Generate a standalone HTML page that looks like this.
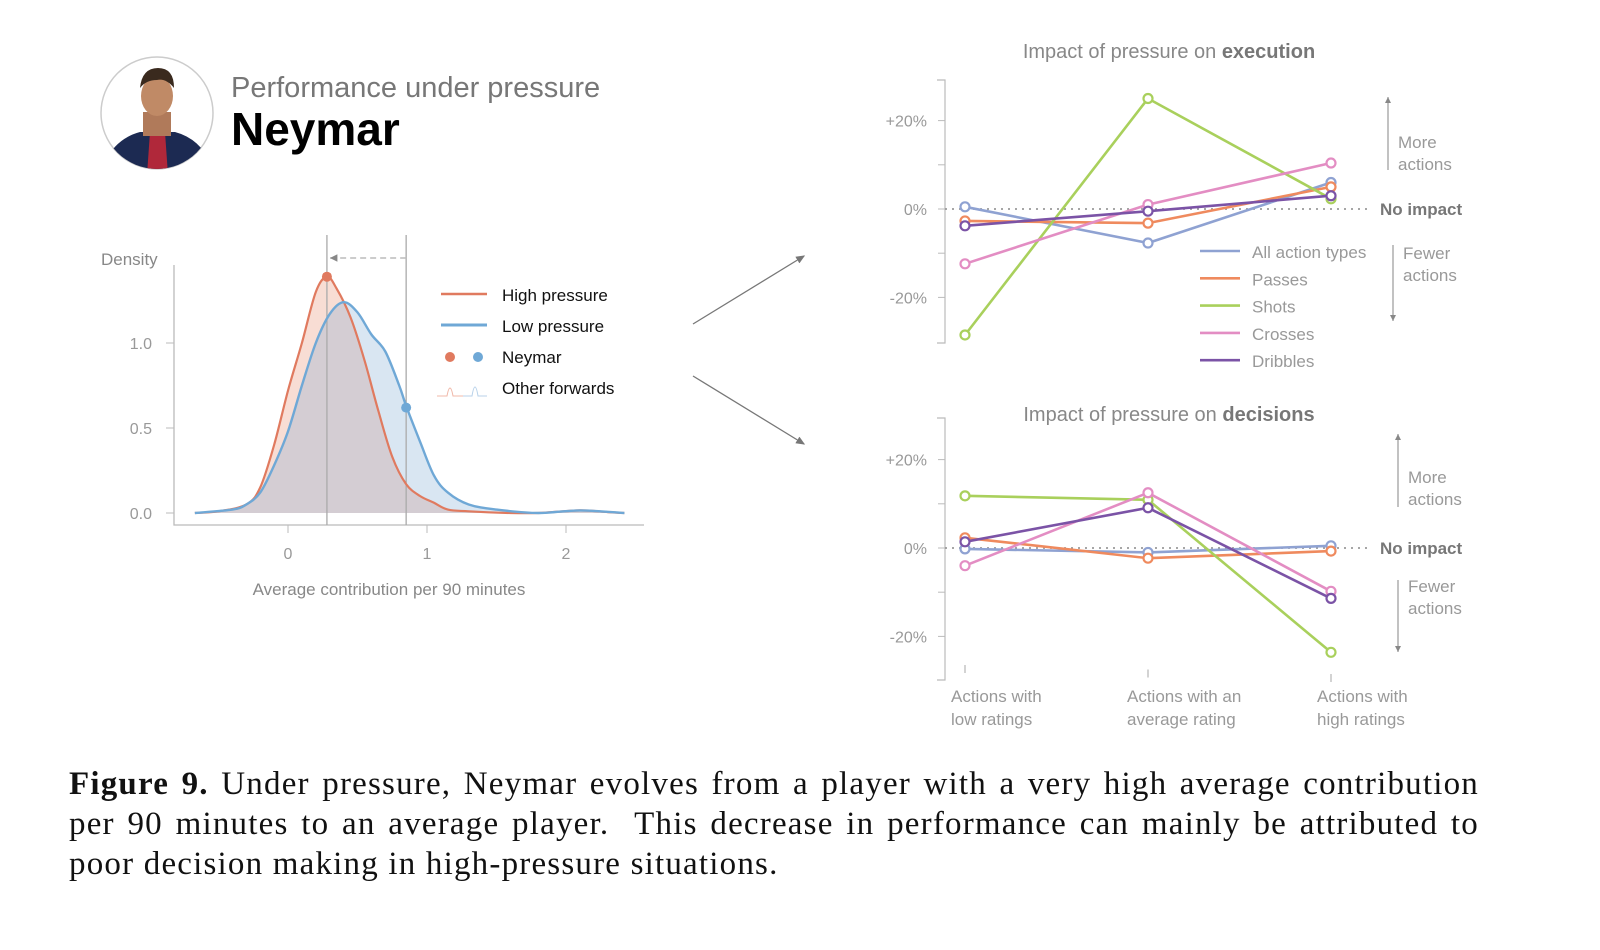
<!DOCTYPE html>
<html><head><meta charset="utf-8">
<style>
html,body{margin:0;padding:0;background:#fff;}
#root{position:relative;width:1600px;height:950px;overflow:hidden;font-family:"Liberation Sans",sans-serif;}
svg{position:absolute;left:0;top:0;}
#caption{position:absolute;left:69px;top:764px;width:1410px;font-family:"Liberation Serif",serif;font-size:33px;letter-spacing:1.2px;line-height:40px;color:#111;}
#caption div{white-space:nowrap;}
#caption .j{text-align:justify;text-align-last:justify;}
</style></head>
<body>
<div id="root">
<svg id="svg" width="1600" height="950">
  <defs>
    <clipPath id="avclip"><circle cx="157" cy="113" r="56"/></clipPath>
    <marker id="ah" markerWidth="8" markerHeight="8" refX="6" refY="4" orient="auto"><path d="M0,1 L7,4 L0,7 z" fill="#777"/></marker>
    <marker id="ahs" markerWidth="6" markerHeight="6" refX="5" refY="3" orient="auto"><path d="M0,0.5 L5,3 L0,5.5 z" fill="#888"/></marker>
  </defs>
  <g>
    <circle cx="157" cy="113" r="56" fill="#fff" stroke="#ccc" stroke-width="1.5"/>
    <g clip-path="url(#avclip)">
      <path d="M100,175 Q110,140 140,132 L175,132 Q205,140 215,175 Z" fill="#1c2a52"/>
      <path d="M150,132 L165,132 L168,175 L147,175 Z" fill="#b0283a"/>
      <rect x="143" y="112" width="28" height="24" fill="#b07a5a"/>
      <ellipse cx="157" cy="96" rx="16" ry="20" fill="#c08a66"/>
      <path d="M140,88 Q142,68 158,68 Q174,68 174,88 Q166,78 157,80 Q146,80 140,88Z" fill="#3a2a1e"/>
    </g>
  </g>
  <text x="231" y="97" font-size="29" fill="#777">Performance under pressure</text>
  <text x="231" y="145" font-size="46" font-weight="bold" fill="#000">Neymar</text>

  <g id="density"></g>

  <line x1="693" y1="324" x2="804" y2="256" stroke="#777" stroke-width="1.3" marker-end="url(#ah)"/>
  <line x1="693" y1="376" x2="804" y2="444" stroke="#777" stroke-width="1.3" marker-end="url(#ah)"/>

  <g id="exec"></g>
  <g id="dec"></g>
</svg>
<div id="caption">
<div class="j"><b>Figure 9.</b> Under pressure, Neymar evolves from a player with a very high average contribution</div>
<div class="j">per 90 minutes to an average player.&nbsp; This decrease in performance can mainly be attributed to</div>
<div>poor decision making in high-pressure situations.</div>
</div>
</div>
<script>
// ---- density data ----
const densX = [-0.67,-0.5,-0.3,-0.2,-0.1,0,0.1,0.2,0.28,0.35,0.45,0.55,0.65,0.75,0.85,0.95,1.05,1.15,1.3,1.6,1.8,2.1,2.3,2.42];
const highDens = [0,0.01,0.05,0.15,0.4,0.72,1.0,1.3,1.39,1.32,1.15,0.9,0.6,0.33,0.17,0.1,0.06,0.02,0.01,0,0,0.015,0.005,0];
const lowX = [-0.67,-0.4,-0.3,-0.2,-0.1,0,0.1,0.2,0.3,0.4,0.5,0.6,0.7,0.8,0.85,0.95,1.05,1.15,1.3,1.5,1.8,2.1,2.42];
const lowDens = [0,0.02,0.05,0.12,0.28,0.48,0.75,1.0,1.17,1.24,1.18,1.05,0.95,0.75,0.63,0.42,0.22,0.12,0.05,0.02,0,0.015,0];
const neymarHigh = [0.28,1.39];
const neymarLow = [0.85,0.62];
const densXTicks = [0,1,2];
const densYTicks = [0.0,0.5,1.0];

// ---- impact data ----
const categories = ["Actions with|low ratings","Actions with an|average rating","Actions with|high ratings"];
const seriesNames = ["All action types","Passes","Shots","Crosses","Dribbles"];
const seriesColors = ["#8fa2d2","#ef8a5e","#a9d05c","#e38dc3","#7b53a6"];
const execAll = [0.5,-7.7,6];
const execPasses = [-2.7,-3.2,5];
const execShots = [-28.5,25,2.3];
const execCrosses = [-12.4,1,10.4];
const execDribbles = [-3.8,-0.5,3];
const decAll = [-0.2,-1,0.5];
const decPasses = [2.3,-2.3,-0.7];
const decShots = [11.8,10.9,-23.6];
const decCrosses = [-4,12.5,-9.8];
const decDribbles = [1.4,9.1,-11.4];
const pctTicks = [20,0,-20];
const pctTickLabels = ["+20%","0%","-20%"];

const NS="http://www.w3.org/2000/svg";
function mk(parent,tag,attrs,text){const e=document.createElementNS(NS,tag);for(const k in attrs)e.setAttribute(k,attrs[k]);if(text!==undefined)e.textContent=text;parent.appendChild(e);return e;}

(function(){
  const g=document.getElementById('density');
  const sx=v=>288+v*139, sy=v=>513-v*170;
  function smooth(xs,ys){const p=xs.map((x,i)=>[sx(x),sy(ys[i])]);let d='M'+p[0][0]+','+p[0][1];
    for(let i=0;i<p.length-1;i++){const p0=p[Math.max(0,i-1)],p1=p[i],p2=p[i+1],p3=p[Math.min(p.length-1,i+2)];
      const c1=[p1[0]+(p2[0]-p0[0])/6,p1[1]+(p2[1]-p0[1])/6],c2=[p2[0]-(p3[0]-p1[0])/6,p2[1]-(p3[1]-p1[1])/6];
      d+=`C${c1[0].toFixed(1)},${c1[1].toFixed(1)} ${c2[0].toFixed(1)},${c2[1].toFixed(1)} ${p2[0].toFixed(1)},${p2[1].toFixed(1)}`;}
    return d;}
  const hd=smooth(densX,highDens), ld=smooth(lowX,lowDens);
  const hf=mk(g,'path',{d:hd+'Z',fill:'rgba(232,150,120,0.32)'});
  
  
  const lf=mk(g,'path',{d:ld+'Z',fill:'rgba(120,165,210,0.28)'});
  
  
  const ax=mk(g,'path',{d:'M174,265 L174,525 L644,525',fill:'none',stroke:'#bbb','stroke-width':1.3});
  
  
  densYTicks.forEach(t=>{mk(g,'line',{x1:166,x2:174,y1:sy(t),y2:sy(t),stroke:'#bbb'});
    const l=mk(g,'text',{x:152,y:sy(t)+6,'font-size':16,fill:'#999','text-anchor':'end'},t.toFixed(1));
    
    });
  densXTicks.forEach(t=>{mk(g,'line',{x1:sx(t),x2:sx(t),y1:525,y2:533,stroke:'#bbb'});
    const l=mk(g,'text',{x:sx(t),y:559,'font-size':16,fill:'#999','text-anchor':'middle'},String(t));
    
    });
  const yt=mk(g,'text',{x:101,y:265,'font-size':17,fill:'#888'},'Density');
  
  
  const xt=mk(g,'text',{x:389,y:595,'font-size':17,fill:'#888','text-anchor':'middle'},'Average contribution per 90 minutes');
  
  
  [neymarHigh[0],neymarLow[0]].forEach(v=>mk(g,'line',{x1:sx(v),x2:sx(v),y1:235,y2:525,stroke:'#aaa','stroke-width':1.3}));
  const da=mk(g,'line',{x1:sx(neymarLow[0]),x2:sx(neymarHigh[0])+3,y1:258,y2:258,stroke:'#bbb','stroke-width':1.5,'stroke-dasharray':'6,4','marker-end':'url(#ahs)'});
  
  
  const hl=mk(g,'path',{d:hd,fill:'none',stroke:'#e07a5f','stroke-width':2.2});
  
  
  const ll=mk(g,'path',{d:ld,fill:'none',stroke:'#6fa8d6','stroke-width':2.4});
  
  
  const p1=mk(g,'circle',{cx:sx(neymarHigh[0]),cy:sy(neymarHigh[1]),r:5,fill:'#e07a5f'});
  
  
  const p2=mk(g,'circle',{cx:sx(neymarLow[0]),cy:sy(neymarLow[1]),r:5,fill:'#6fa8d6'});
  
  
  const lg=mk(g,'g',{});
  
  
  mk(lg,'line',{x1:441,x2:487,y1:294,y2:294,stroke:'#e07a5f','stroke-width':2.5});
  mk(lg,'line',{x1:441,x2:487,y1:325,y2:325,stroke:'#6fa8d6','stroke-width':3});
  mk(lg,'circle',{cx:450,cy:357,r:5,fill:'#e07a5f'});
  mk(lg,'circle',{cx:478,cy:357,r:5,fill:'#6fa8d6'});
  mk(lg,'path',{d:'M437,396 L447,396 Q450,380 453,396 L463,396',fill:'none',stroke:'#f0b8a8','stroke-width':1});
  mk(lg,'path',{d:'M463,396 L472,396 Q475,378 478,396 L487,396',fill:'none',stroke:'#b8d2ea','stroke-width':1});
  ['High pressure','Low pressure','Neymar','Other forwards'].forEach((t,i)=>{
    const e=mk(lg,'text',{x:502,y:301+i*31,'font-size':17,fill:'#111'},t);
    
    });
})();

function impactChart(id,top,zeroY,axTop,axBot,title,boldWord,series,withLegend,withXLabels,annot){
  const g=document.getElementById(id);
  const xs=[965,1148,1331];
  const sy=v=>zeroY-v*4.42;
  const t=mk(g,'text',{x:1169,y:top,'font-size':20,fill:'#888','text-anchor':'middle'});
  
  
  mk(t,'tspan',{},title+' ');mk(t,'tspan',{'font-weight':'bold',fill:'#777'},boldWord);
  mk(g,'path',{d:`M937,${axTop} L945,${axTop} L945,${axBot} L937,${axBot}`,fill:'none',stroke:'#bbb','stroke-width':1.2});
  [20,10,0,-10,-20].forEach(v=>mk(g,'line',{x1:938,x2:945,y1:sy(v),y2:sy(v),stroke:'#bbb'}));
  pctTicks.forEach((v,i)=>{const e=mk(g,'text',{x:927,y:sy(v)+6,'font-size':16,fill:'#999','text-anchor':'end'},pctTickLabels[i]);
    
    });
  const dl=mk(g,'line',{x1:945,x2:1372,y1:sy(0),y2:sy(0),stroke:'#999','stroke-width':1.8,'stroke-dasharray':'2,5'});
  
  
  const ni=mk(g,'text',{x:1380,y:sy(0)+6,'font-size':17,'font-weight':'bold',fill:'#777'},'No impact');
  
  
  series.forEach((vals,si)=>{
    const pts=vals.map((v,i)=>xs[i]+','+sy(v).toFixed(1)).join(' ');
    const pl=mk(g,'polyline',{points:pts,fill:'none',stroke:seriesColors[si],'stroke-width':2.6});
    
    
    vals.forEach((v,i)=>{const c=mk(g,'circle',{cx:xs[i],cy:sy(v),r:4.5,fill:'#fff',stroke:seriesColors[si],'stroke-width':2.2});
      
      });
  });
  mk(g,'line',{x1:annot.ax,x2:annot.ax,y1:annot.upB,y2:annot.upT,stroke:'#999','stroke-width':1.2,'marker-end':'url(#ahs)'});
  mk(g,'line',{x1:annot.ax2,x2:annot.ax2,y1:annot.dnT,y2:annot.dnB,stroke:'#999','stroke-width':1.2,'marker-end':'url(#ahs)'});
  const m=mk(g,'text',{x:annot.mx,y:annot.my,'font-size':17,fill:'#999'});
  
  
  mk(m,'tspan',{x:annot.mx},'More');mk(m,'tspan',{x:annot.mx,dy:22},'actions');
  const f=mk(g,'text',{x:annot.fx,y:annot.fy,'font-size':17,fill:'#999'});
  
  
  mk(f,'tspan',{x:annot.fx},'Fewer');mk(f,'tspan',{x:annot.fx,dy:22},'actions');
  if(withLegend){
    seriesNames.forEach((n,i)=>{const y=251+i*27.3;
      mk(g,'line',{x1:1200,x2:1240,y1:y,y2:y,stroke:seriesColors[i],'stroke-width':2.6});
      const e=mk(g,'text',{x:1252,y:y+7,'font-size':17,fill:'#999'},n);
      
      });
  }
  if(withXLabels){
    const lx=[951,1127,1317];
    categories.forEach((c,i)=>{
      mk(g,'line',{x1:xs[i],x2:xs[i],y1:665+i*4.5,y2:673+i*4.5,stroke:'#bbb','stroke-width':1.3});
      const parts=c.split('|');
      const e=mk(g,'text',{x:lx[i],y:702,'font-size':17,fill:'#999'});
      
      
      mk(e,'tspan',{x:lx[i]},parts[0]);mk(e,'tspan',{x:lx[i],dy:23},parts[1]);
    });
  }
}
impactChart('exec',58,209,80,343,'Impact of pressure on','execution',
  [execAll,execPasses,execShots,execCrosses,execDribbles],true,false,
  {ax:1388,upB:170,upT:97,ax2:1393,dnT:245,dnB:321,mx:1398,my:148,fx:1403,fy:259});
impactChart('dec',421,548,418,680,'Impact of pressure on','decisions',
  [decAll,decPasses,decShots,decCrosses,decDribbles],false,true,
  {ax:1398,upB:507,upT:434,ax2:1398,dnT:580,dnB:652,mx:1408,my:483,fx:1408,fy:592});
</script>
</body></html>
